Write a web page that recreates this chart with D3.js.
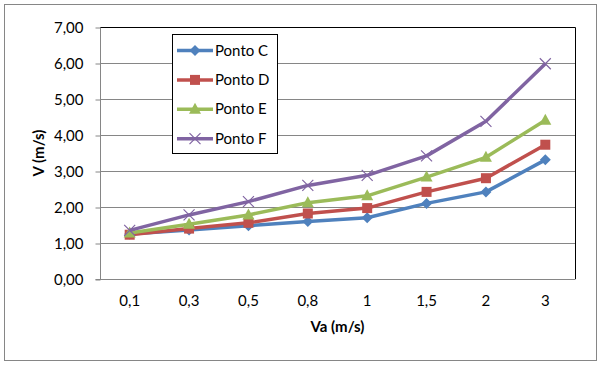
<!DOCTYPE html>
<html>
<head>
<meta charset="utf-8">
<script src="https://cdn.jsdelivr.net/npm/d3@7"></script>
<style>
  html, body { margin: 0; padding: 0; background: #fff; }
  svg { display: block; font-family: "Lato", "Open Sans", sans-serif; }
</style>
</head>
<body>
<svg id="chart" width="604" height="367"></svg>
<script>
const categories = ["0,1", "0,3", "0,5", "0,8", "1", "1,5", "2", "3"];
const pontoC = [1.25, 1.36, 1.48, 1.60, 1.70, 2.10, 2.42, 3.31];
const pontoD = [1.23, 1.40, 1.56, 1.82, 1.97, 2.42, 2.80, 3.73];
const pontoE = [1.28, 1.52, 1.78, 2.12, 2.31, 2.83, 3.38, 4.41];
const pontoF = [1.35, 1.78, 2.15, 2.60, 2.88, 3.42, 4.38, 5.98];
const yTicks = [0, 1, 2, 3, 4, 5, 6, 7];
const seriesNames = ["Ponto C", "Ponto D", "Ponto E", "Ponto F"];
const seriesColors = ["#4F81BD", "#C0504D", "#9BBB59", "#8064A2"];
const seriesMarkers = ["diamond", "square", "triangle", "cross"];
const seriesValues = [pontoC, pontoD, pontoE, pontoF];

const svg = d3.select("#chart");
const m = { left: 100, right: 575, top: 27, bottom: 279 };
const FS = 15;

// outer border
svg.append("rect").attr("x", 4.5).attr("y", 4.5).attr("width", 592).attr("height", 356)
  .attr("fill", "#fff").attr("stroke", "#868686").attr("stroke-width", 1);

const x = d3.scaleBand().domain(categories).range([m.left, m.right]);
const y = d3.scaleLinear().domain([0, 7]).range([m.bottom, m.top]);

// gridlines
svg.append("g").selectAll("line").data(yTicks.filter(d => d > 0 && d < 7)).join("line")
  .attr("x1", m.left).attr("x2", m.right)
  .attr("y1", d => Math.round(y(d)) + 0.5).attr("y2", d => Math.round(y(d)) + 0.5)
  .attr("stroke", "#868686").attr("stroke-width", 1);

// plot border top/right (black)
svg.append("path")
  .attr("d", `M${m.left},${m.top + 0.5}H${m.right + 0.5}V${m.bottom}`)
  .attr("fill", "none").attr("stroke", "#000").attr("stroke-width", 1);

// y axis
const yAxis = d3.axisLeft(y).tickValues(yTicks).tickSize(5).tickPadding(12)
  .tickFormat(d => d3.format(".2f")(d).replace(".", ","));
const gy = svg.append("g").attr("transform", `translate(${m.left + 0.5},0.5)`).call(yAxis);
gy.select(".domain").attr("stroke", "#868686").attr("d", `M-5,${m.bottom}H0V${m.top}`);
gy.selectAll(".tick line").attr("stroke", "#868686");
gy.selectAll(".tick text").attr("font-size", FS).attr("fill", "#000")
  .attr("font-family", "Lato, sans-serif");

// x axis
const xAxis = d3.axisBottom(x).tickSize(0).tickPadding(16);
const gx = svg.append("g").attr("transform", `translate(0,${m.bottom + 0.5})`).call(xAxis);
gx.select(".domain").attr("stroke", "#868686").attr("d", `M${m.left},0H${m.right + 0.5}`);
gx.selectAll(".tick text").attr("font-size", FS).attr("fill", "#000")
  .attr("font-family", "Lato, sans-serif");

// axis titles
svg.append("text").attr("x", (m.left + m.right) / 2).attr("y", 332)
  .attr("text-anchor", "middle").attr("font-size", FS).attr("font-weight", "bold")
  .text("Va (m/s)");
svg.append("text").attr("transform", `translate(44,${(m.top + m.bottom) / 2}) rotate(-90)`)
  .attr("text-anchor", "middle").attr("font-size", FS).attr("font-weight", "bold")
  .text("V (m/s)");

function drawMarker(g, type, color) {
  if (type === "diamond") {
    g.append("path").attr("d", "M0,-5.5L5.5,0L0,5.5L-5.5,0Z").attr("fill", color);
  } else if (type === "square") {
    g.append("rect").attr("x", -5).attr("y", -5).attr("width", 10).attr("height", 10).attr("fill", color);
  } else if (type === "triangle") {
    g.append("path").attr("d", "M0,-6.5L6,4.5L-6,4.5Z").attr("fill", color);
  } else {
    g.append("path").attr("d", "M-5.5,-5.5L5.5,5.5M-5.5,5.5L5.5,-5.5")
      .attr("stroke", color).attr("stroke-width", 1.2).attr("fill", "none");
  }
}

const line = d3.line().x((d, i) => x(categories[i]) + x.bandwidth() / 2).y(d => y(d));

seriesValues.forEach((vals, si) => {
  const g = svg.append("g");
  g.append("path").datum(vals).attr("d", line)
    .attr("fill", "none").attr("stroke", seriesColors[si]).attr("stroke-width", 3.5)
    .attr("stroke-linejoin", "round");
  vals.forEach((v, i) => {
    const mg = g.append("g").attr("transform",
      `translate(${x(categories[i]) + x.bandwidth() / 2},${y(v)})`);
    drawMarker(mg, seriesMarkers[si], seriesColors[si]);
  });
});

// legend
const lg = svg.append("g");
lg.append("rect").attr("x", 172.5).attr("y", 34.5).attr("width", 105).attr("height", 119)
  .attr("fill", "#fff").attr("stroke", "#000").attr("stroke-width", 1);
seriesNames.forEach((name, i) => {
  const cy = 50.5 + i * 29.4;
  lg.append("line").attr("x1", 177).attr("x2", 213).attr("y1", cy).attr("y2", cy)
    .attr("stroke", seriesColors[i]).attr("stroke-width", 3.5);
  const mg = lg.append("g").attr("transform", `translate(195,${cy})`);
  drawMarker(mg, seriesMarkers[i], seriesColors[i]);
  lg.append("text").attr("x", 215).attr("y", cy + 5).attr("font-size", FS).text(name);
});
</script>
</body>
</html>
